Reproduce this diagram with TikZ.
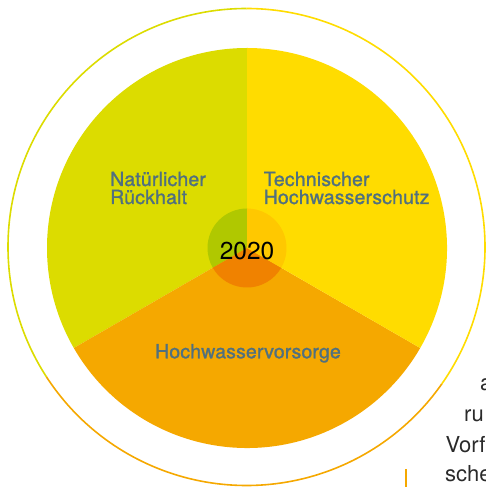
\documentclass[tikz,border=0pt]{standalone}
\usepackage{fontspec}
\newfontfamily\labfont{TeX Gyre Heros}[LetterSpace=0.8,FakeBold=1.2]
\newfontfamily\numfont{TeX Gyre Heros}
\definecolor{cgreen}{HTML}{DCDC00}
\definecolor{cyellow}{HTML}{FFDC00}
\definecolor{corange}{HTML}{F5A800}
\definecolor{dgreen}{HTML}{B0C800}
\definecolor{dyellow}{HTML}{FFC800}
\definecolor{dorange}{HTML}{F08200}
\definecolor{ctext}{HTML}{50707F}
\definecolor{ctextb}{HTML}{2A2A2A}
\tikzset{
  seclabel/.style={font=\labfont\fontsize{19.5}{18}\selectfont, text=ctext, inner sep=0pt, anchor=base west},
  bodytext/.style={font=\numfont\fontsize{22}{22}\selectfont, text=ctextb, inner sep=0pt, anchor=base west},
  ring/.style={line width=1.6pt}
}
\begin{document}
\begin{tikzpicture}[x=1pt,y=1pt]
\useasboundingbox (0,0) rectangle (485,487);
\coordinate (C) at (247,239);
\coordinate (O) at (246.5,240);
% outer ring
\draw[ring,cgreen] (O) ++(90:238.5) arc[start angle=90,end angle=213,radius=238.5];
\draw[ring,corange] (O) ++(213:238.5) arc[start angle=213,end angle=325,radius=238.5];
\draw[ring,cyellow] (O) ++(325:238.5) arc[start angle=325,end angle=450,radius=238.5];
% sectors
\fill[cgreen] (C) -- ++(90:200) arc[start angle=90,end angle=210,radius=200] -- cycle;
\fill[corange] (C) -- ++(210:200) arc[start angle=210,end angle=330,radius=200] -- cycle;
\fill[cyellow] (C) -- ++(330:200) arc[start angle=330,end angle=450,radius=200] -- cycle;
% center
\fill[dgreen] (C) -- ++(90:39.5) arc[start angle=90,end angle=210,radius=39.5] -- cycle;
\fill[dorange] (C) -- ++(210:39.5) arc[start angle=210,end angle=330,radius=39.5] -- cycle;
\fill[dyellow] (C) -- ++(330:39.5) arc[start angle=330,end angle=450,radius=39.5] -- cycle;
% labels
\node[seclabel] (nat1) at (110,301) {Natürlicher};
\node[seclabel] (nat2) at (110,283) {Rückhalt};
\node[seclabel] (tec1) at (263.5,301) {Technischer};
\node[seclabel] (tec2) at (263.5,283) {Hochwasserschutz};
\node[seclabel,anchor=base] (vor) at (248,128.7) {Hochwasservorsorge};
\node[font=\numfont\fontsize{24.5}{25}\selectfont, inner sep=0pt, anchor=base] (year) at (247,227.7) {2020};
% cut-off body text
\node[bodytext] (t1) at (480,96.3) {a};
\node[bodytext] (t2) at (464,65.3) {ru};
\node[bodytext] (t3) at (445.5,34.3) {Vorf};
\node[bodytext] (t4) at (445,5.3) {sche};
% orange marker line
\coordinate (m1) at (406,18);
\coordinate (m2) at (406,0);
\draw[corange,line width=1.8pt] (m1) -- (m2);
\end{tikzpicture}
\end{document}
